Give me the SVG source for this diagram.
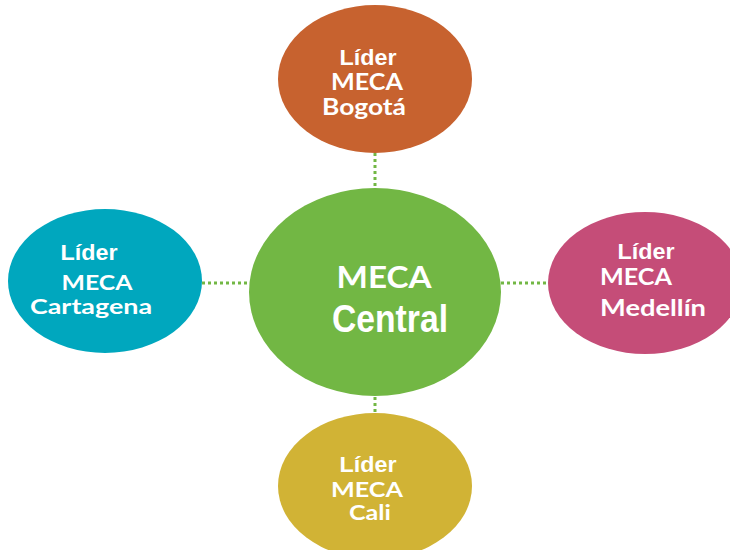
<svg xmlns="http://www.w3.org/2000/svg" width="730" height="550" viewBox="0 0 730 550">
<style>
.conn{stroke:#72B744;stroke-width:3;stroke-dasharray:3 3;fill:none}
.t{fill:#FFFFFF;font-family:Lato,"Open Sans","Liberation Sans",sans-serif;font-weight:bold;text-anchor:middle;font-size:22px}
.n{fill:#FFFFFF;font-family:"Liberation Sans",Arial,sans-serif;font-weight:bold;text-anchor:middle;font-size:22px}
.s{font-size:20px}
</style>
<rect width="730" height="550" fill="#FFFFFF"/>
<g id="connectors">
<line class="conn" x1="375" y1="153" x2="375" y2="188"/>
<line class="conn" x1="202" y1="283" x2="249" y2="283"/>
<line class="conn" x1="501" y1="283" x2="547" y2="283"/>
<line class="conn" x1="375" y1="397" x2="375" y2="413"/>
</g>
<g id="central">
<ellipse cx="375" cy="292" rx="126" ry="104" fill="#72B744"/>
<text class="t" x="384" y="288" style="font-size:30px" textLength="95" lengthAdjust="spacingAndGlyphs">MECA</text>
<text class="n" x="390" y="332" style="font-size:38px" textLength="116" lengthAdjust="spacingAndGlyphs">Central</text>
</g>
<g id="bogota">
<ellipse cx="375" cy="79" rx="97" ry="74" fill="#C7622F"/>
<text class="n" x="368" y="65" textLength="57" lengthAdjust="spacingAndGlyphs">Líder</text>
<text class="t" x="367" y="90" textLength="72" lengthAdjust="spacingAndGlyphs">MECA</text>
<text class="t" x="364" y="115" textLength="84" lengthAdjust="spacingAndGlyphs">Bogotá</text>
</g>
<g id="cartagena">
<ellipse cx="105" cy="281" rx="97" ry="72" fill="#00A7BE"/>
<text class="n" x="89" y="260" textLength="57" lengthAdjust="spacingAndGlyphs">Líder</text>
<text class="t s" x="97" y="290" textLength="71" lengthAdjust="spacingAndGlyphs" style="font-size:21px">MECA</text>
<text class="t s" x="91" y="314" textLength="122" lengthAdjust="spacingAndGlyphs" style="font-size:21px">Cartagena</text>
</g>
<g id="medellin">
<ellipse cx="645" cy="283" rx="97" ry="71" fill="#C54D78"/>
<text class="n" x="646" y="259" textLength="57" lengthAdjust="spacingAndGlyphs">Líder</text>
<text class="t" x="636" y="285" textLength="72" lengthAdjust="spacingAndGlyphs">MECA</text>
<text class="t" x="653" y="316" textLength="106" lengthAdjust="spacingAndGlyphs">Medellín</text>
</g>
<g id="cali">
<ellipse cx="375" cy="486" rx="97" ry="73" fill="#D1B335"/>
<text class="n" x="368" y="472" textLength="57" lengthAdjust="spacingAndGlyphs">Líder</text>
<text class="t" x="367" y="497" textLength="72" lengthAdjust="spacingAndGlyphs" style="font-size:21px">MECA</text>
<text class="t" x="370" y="520" textLength="42" lengthAdjust="spacingAndGlyphs" style="font-size:21px">Cali</text>
</g>
</svg>
